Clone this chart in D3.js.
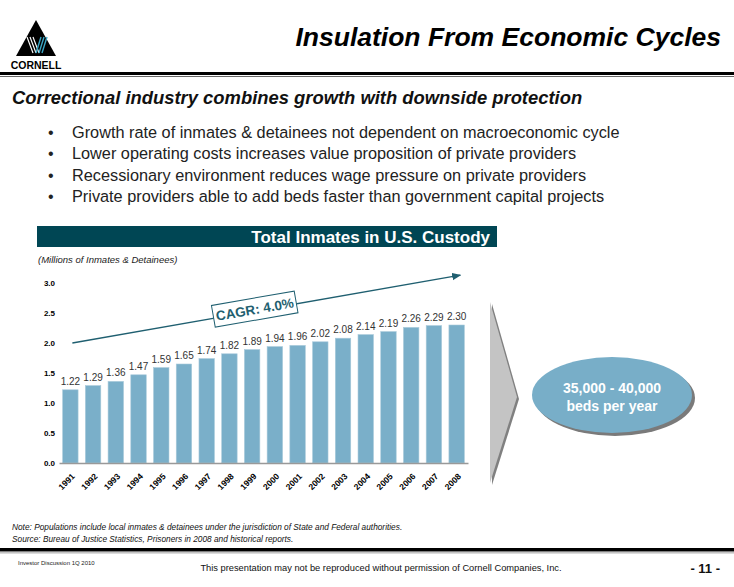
<!DOCTYPE html>
<html>
<head>
<meta charset="utf-8">
<script src="https://cdn.jsdelivr.net/npm/d3@7"></script>
<style>
html,body{margin:0;padding:0;background:#fff;}
svg{display:block;font-family:"Liberation Sans",Arial,sans-serif;}
</style>
</head>
<body>
<svg id="c" width="734" height="587"></svg>
<script>
const years = ["1991","1992","1993","1994","1995","1996","1997","1998","1999","2000","2001","2002","2003","2004","2005","2006","2007","2008"];
const inmates = [1.22,1.29,1.36,1.47,1.59,1.65,1.74,1.82,1.89,1.94,1.96,2.02,2.08,2.14,2.19,2.26,2.29,2.30];
const yTicks = [0,0.5,1.0,1.5,2.0,2.5,3.0];
const bullets = [
  "Growth rate of inmates & detainees not dependent on macroeconomic cycle",
  "Lower operating costs increases value proposition of private providers",
  "Recessionary environment reduces wage pressure on private providers",
  "Private providers able to add beds faster than government capital projects"
];
const cagrLabel = "CAGR: 4.0%";
const trendValues = [2.0, 3.13];

const svg = d3.select("#c");

// ---------- header ----------
const logo = svg.append("g");
logo.append("polygon").attr("points","36,20 56,56 16,56").attr("fill","#000");
[0,3,6].forEach(o=>{
  logo.append("line").attr("x1",27+o).attr("y1",37).attr("x2",33+o).attr("y2",53)
    .attr("stroke","#fff").attr("stroke-width",1.2);
});
[0,3,6].forEach(o=>{
  logo.append("line").attr("x1",36+o).attr("y1",53).attr("x2",41+o).attr("y2",37)
    .attr("stroke","#3aa6c4").attr("stroke-width",1.4);
});
logo.append("text").attr("x",36).attr("y",69).attr("text-anchor","middle")
  .attr("font-size",10.5).attr("font-weight","bold").attr("fill","#000").text("CORNELL");

svg.append("text").attr("x",721).attr("y",46).attr("text-anchor","end")
  .attr("font-size",26.5).attr("font-weight","bold").attr("font-style","italic").attr("fill","#000")
  .text("Insulation From Economic Cycles");
svg.append("rect").attr("x",0).attr("y",72).attr("width",734).attr("height",3).attr("fill","#000");
svg.append("rect").attr("x",0).attr("y",76).attr("width",734).attr("height",1).attr("fill","#666");

svg.append("text").attr("x",12).attr("y",104)
  .attr("font-size",18.4).attr("font-weight","bold").attr("font-style","italic").attr("fill","#111")
  .text("Correctional industry combines growth with downside protection");

bullets.forEach((b,i)=>{
  const yy = 138 + i*21.3;
  svg.append("text").attr("x",48).attr("y",yy).attr("font-size",16).attr("fill","#222").text("•");
  svg.append("text").attr("x",72).attr("y",yy).attr("font-size",16.3).attr("fill","#222").text(b);
});

// ---------- chart banner ----------
svg.append("rect").attr("x",37).attr("y",226).attr("width",460).attr("height",21).attr("fill","#004654");
svg.append("text").attr("x",490).attr("y",243).attr("text-anchor","end")
  .attr("font-size",17).attr("font-weight","bold").attr("fill","#fff").text("Total Inmates in U.S. Custody");
svg.append("text").attr("x",38).attr("y",263).attr("font-size",9.5).attr("font-style","italic")
  .attr("fill","#222").text("(Millions of Inmates & Detainees)");

// ---------- scales ----------
const x = d3.scaleBand().domain(years).range([59,468]).paddingInner(0.32).paddingOuter(0.16);
const y = d3.scaleLinear().domain([0,3]).range([463,283]);

const yAxis = d3.axisLeft(y).tickValues(yTicks).tickFormat(d3.format(".1f")).tickSize(0).tickPadding(0);
const ga = svg.append("g").attr("transform","translate(55,0)").call(yAxis);
ga.select(".domain").remove();
ga.selectAll("text").attr("font-size",8).attr("font-weight","bold").attr("fill","#000")
  .attr("font-family","Liberation Sans, Arial, sans-serif").attr("dy","0.32em");

svg.append("g").selectAll("rect").data(years).join("rect")
  .attr("x",d=>x(d)).attr("width",x.bandwidth())
  .attr("y",(d,i)=>y(inmates[i])).attr("height",(d,i)=>y(0)-y(inmates[i]))
  .attr("fill","#7aafc9").attr("stroke","#a9cadb").attr("stroke-width",0.6);

svg.append("g").selectAll("text").data(years).join("text")
  .attr("x",d=>x(d)+x.bandwidth()/2).attr("y",(d,i)=>y(inmates[i])-5)
  .attr("text-anchor","middle").attr("font-size",10).attr("fill","#333")
  .text((d,i)=>inmates[i].toFixed(2));

const xAxis = d3.axisBottom(x).tickSize(0).tickPadding(0);
const gx = svg.append("g").attr("transform",`translate(0,${y(0)})`).call(xAxis);
gx.select(".domain").attr("stroke","#999").attr("stroke-width",1.5);
gx.selectAll("text").attr("font-size",8.5).attr("font-weight","bold").attr("fill","#000")
  .attr("font-family","Liberation Sans, Arial, sans-serif")
  .attr("text-anchor","end").attr("dy",0)
  .attr("transform","translate(5,14) rotate(-45)");

// trend arrow
const x0 = x(years[0]) + x.bandwidth()/2 + 2, x1 = x(years[years.length-1]) + x.bandwidth() - 4;
const y0 = y(trendValues[0]), y1 = y(trendValues[1]);
svg.append("defs").append("marker").attr("id","ah").attr("viewBox","0 0 10 10")
  .attr("refX",9).attr("refY",5).attr("markerWidth",7).attr("markerHeight",7).attr("orient","auto")
  .append("path").attr("d","M0,1 L10,5 L0,9 Z").attr("fill","#1f5f70");
svg.append("line").attr("x1",x0).attr("y1",y0).attr("x2",x1).attr("y2",y1)
  .attr("stroke","#1f5f70").attr("stroke-width",1.3).attr("marker-end","url(#ah)");
const ang = Math.atan2(y1-y0, x1-x0)*180/Math.PI;
const t = 0.47;
const bx = x0 + (x1-x0)*t, by = y0 + (y1-y0)*t - 2;
const cg = svg.append("g").attr("transform",`translate(${bx},${by}) rotate(${ang})`);
cg.append("rect").attr("x",-42).attr("y",-11).attr("width",84).attr("height",22)
  .attr("fill","#fff").attr("stroke","#1f5f70").attr("stroke-width",1);
cg.append("text").attr("x",0).attr("y",5).attr("text-anchor","middle")
  .attr("font-size",13.5).attr("font-weight","bold").attr("fill","#1f5f70").text(cagrLabel);

// chevron
svg.append("polygon").attr("points","492,304 519,399 492,485").attr("fill","#808080");
svg.append("polygon").attr("points","490,302 517,397 490,483").attr("fill","#c4c4c4");

// ellipse
svg.append("ellipse").attr("cx",615).attr("cy",398).attr("rx",80).attr("ry",38).attr("fill","#7a7a7a");
svg.append("ellipse").attr("cx",612).attr("cy",395).attr("rx",80).attr("ry",38).attr("fill","#78aec8");
svg.append("text").attr("x",612).attr("y",393).attr("text-anchor","middle")
  .attr("font-size",14).attr("font-weight","bold").attr("fill","#fff").text("35,000 - 40,000");
svg.append("text").attr("x",612).attr("y",411).attr("text-anchor","middle")
  .attr("font-size",14).attr("font-weight","bold").attr("fill","#fff").text("beds per year");

// ---------- footer ----------
svg.append("text").attr("x",12).attr("y",530).attr("font-size",8.3).attr("font-style","italic").attr("fill","#111")
  .text("Note:  Populations include local inmates & detainees under the jurisdiction of State and Federal authorities.");
svg.append("text").attr("x",12).attr("y",542).attr("font-size",8.3).attr("font-style","italic").attr("fill","#111")
  .text("Source: Bureau of Justice Statistics, Prisoners in 2008 and historical reports.");
svg.append("rect").attr("x",0).attr("y",548).attr("width",734).attr("height",3.5).attr("fill","#000");
svg.append("rect").attr("x",0).attr("y",552.5).attr("width",734).attr("height",0.8).attr("fill","#888");
svg.append("text").attr("x",18).attr("y",565).attr("font-size",6).attr("fill","#222")
  .text("Investor Discussion 1Q 2010");
svg.append("text").attr("x",381).attr("y",571).attr("text-anchor","middle").attr("font-size",9.3).attr("fill","#111")
  .text("This presentation may not be reproduced without permission of Cornell Companies, Inc.");
svg.append("text").attr("x",720).attr("y",573).attr("text-anchor","end").attr("font-size",13).attr("font-weight","bold").attr("fill","#111")
  .text("- 11 -");
</script>
</body>
</html>
